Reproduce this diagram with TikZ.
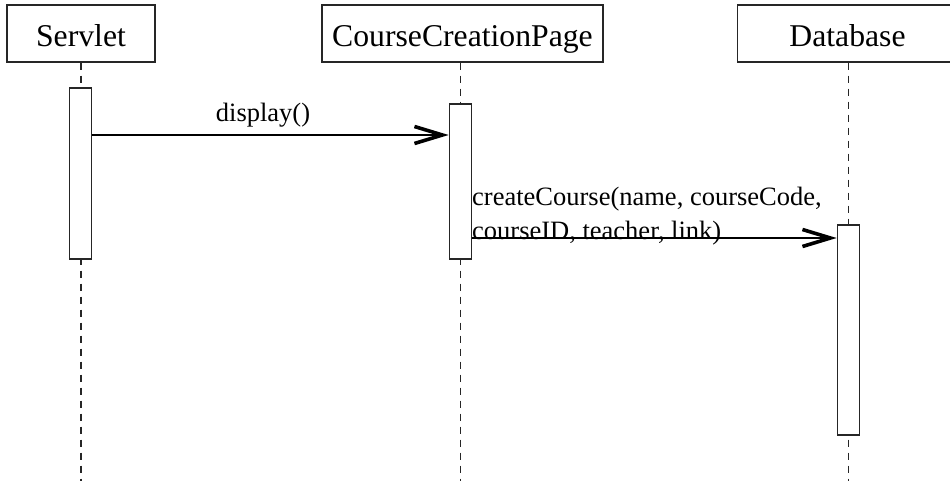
\documentclass[tikz,border=0pt]{standalone}
\usepackage{fontspec}
\setmainfont{Liberation Serif}
\usetikzlibrary{arrows.meta}

\begin{document}
\begin{tikzpicture}[x=1pt,y=-1pt,
  lineobj/.style={draw=black!85, line width=1.2pt, fill=white, inner sep=0pt,
                  text height=27pt, text depth=0pt,
                  font=\fontsize{31.7}{36}\selectfont},
  activation/.style={draw=black!85, line width=1.2pt, fill=white, inner sep=0pt,
                     minimum width=22.5pt},
  lifeline/.style={draw=black!85, line width=1.2pt, dash pattern=on 7pt off 6pt},
  msg/.style={draw=black, line width=1.2pt,
              -{Straight Barb[length=28pt,width=17pt,line width=3.6pt 0,sharp]}},
  msglabel/.style={inner sep=0pt, font=\fontsize{26.5}{33}\selectfont}
]
\useasboundingbox (0,0) rectangle (950,481);

% participants
\node[lineobj, minimum width=148pt, minimum height=57pt] (servlet) at (81,33.5) {Servlet};
\node[lineobj, minimum width=281pt, minimum height=57pt] (page) at (462.5,33.5) {CourseCreationPage};
\node[lineobj, minimum width=220pt, minimum height=57pt] (db) at (847.5,33.5) {Database};

% lifeline ends
\coordinate (servletEnd) at (81,481);
\coordinate (pageEnd) at (460.5,481);
\coordinate (dbEnd) at (848.5,481);

\draw[lifeline] (servlet.south -| servletEnd) -- (servletEnd);
\draw[lifeline] (page.south -| pageEnd) -- (pageEnd);
\draw[lifeline] (db.south -| dbEnd) -- (dbEnd);

% activation bars
\node[activation, minimum height=171pt] (actServlet) at (80.5,173.5) {};
\node[activation, minimum height=155pt] (actPage) at (460.5,181.5) {};
\node[activation, minimum height=210pt] (actDb) at (848.5,330) {};

% messages
\coordinate (m1) at (0,135);
\coordinate (m2) at (0,238);
\draw[msg] (actServlet.east |- m1) -- (actPage.west |- m1);
\draw[msg] (actPage.east |- m2) -- (actDb.west |- m2);

\node[msglabel, anchor=base] (lblDisplay) at (263,122) {display()};
\node[msglabel, anchor=base west] (lblCreateA) at (472,205) {createCourse(name, courseCode,};
\node[msglabel, anchor=base west] (lblCreateB) at (472,239) {courseID, teacher, link)};
\end{tikzpicture}
\end{document}
